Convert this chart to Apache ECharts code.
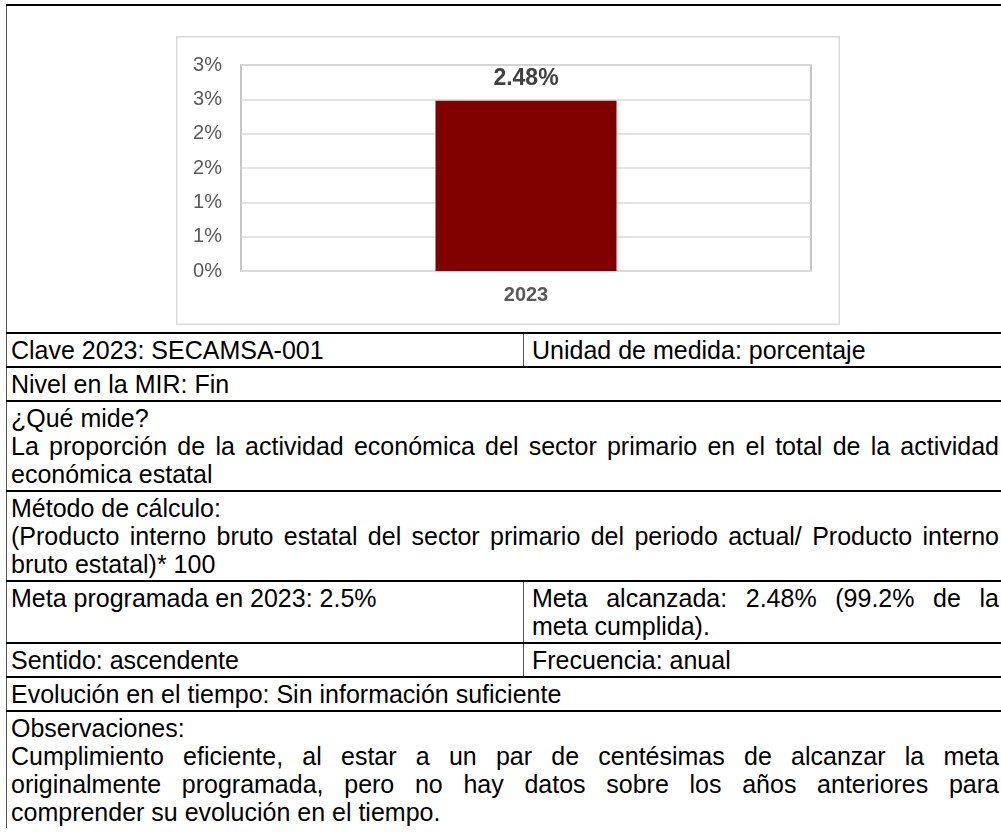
<!DOCTYPE html>
<html>
<head>
<meta charset="utf-8">
<script src="https://cdn.jsdelivr.net/npm/echarts@6/dist/echarts.min.js"></script>
<style>
  html, body { margin: 0; padding: 0; background: #fff; overflow: hidden; }
  body { width: 1001px; height: 834px; position: relative; font-family: "Liberation Sans", Arial, sans-serif; }
  #tbl {
    position: absolute; left: 6px; top: 4px; width: 997px;
    border-collapse: collapse; table-layout: fixed;
    font-size: 25px; line-height: 28px; color: #000;
  }
  #tbl td {
    border-top: 2.5px solid #000; border-left: 1.5px solid #555;
    padding: 2px 4px 2px 4px; vertical-align: top; text-align: justify;
  }
  #tbl td.right { border-left: 1px solid #555; padding-left: 8px; }
  #tbl td.chartcell { height: 326px; padding: 0; }
  #chart { position: absolute; left: 176px; top: 36px; width: 664px; height: 289px;
    box-shadow: inset 0 0 0 1.5px #d9d9d9; }
</style>
</head>
<body>
<table id="tbl">
  <colgroup><col style="width:517px"><col></colgroup>
  <tr><td colspan="2" class="chartcell"></td></tr>
  <tr><td>Clave 2023: SECAMSA-001</td><td class="right">Unidad de medida: porcentaje</td></tr>
  <tr><td colspan="2">Nivel en la MIR: Fin</td></tr>
  <tr><td colspan="2">¿Qué mide?<br>La proporción de la actividad económica del sector primario en el total de la actividad económica estatal</td></tr>
  <tr><td colspan="2">Método de cálculo:<br>(Producto interno bruto estatal del sector primario del periodo actual/ Producto interno bruto estatal)* 100</td></tr>
  <tr><td>Meta programada en 2023: 2.5%</td><td class="right">Meta alcanzada: 2.48% (99.2% de la meta cumplida).</td></tr>
  <tr><td>Sentido: ascendente</td><td class="right">Frecuencia: anual</td></tr>
  <tr><td colspan="2">Evolución en el tiempo: Sin información suficiente</td></tr>
  <tr><td colspan="2">Observaciones:<br>Cumplimiento eficiente, al estar a un par de centésimas de alcanzar la meta originalmente programada, pero no hay datos sobre los años anteriores para comprender su evolución en el tiempo.</td></tr>
</table>
<div id="chart"></div>

<script>
// chart data
const years = ['2023']
const shares = [2.48]
const yMin = 0
const yMax = 3
const yStep = 0.5

const font = '"Liberation Sans", Arial, sans-serif'

const chart = echarts.init(document.getElementById('chart'))
chart.setOption({
  animation: false,
  grid: { left: 65, top: 29, right: 29, bottom: 54, show: true, borderColor: '#b3b3b3', borderWidth: 1.5 },
  xAxis: {
    type: 'category', data: years,
    axisLine: { lineStyle: { color: '#d9d9d9', width: 2 } },
    axisTick: { show: false },
    axisLabel: { color: '#595959', fontSize: 20, fontWeight: 'bold', margin: 14, fontFamily: font }
  },
  yAxis: {
    type: 'value', min: yMin, max: yMax, interval: yStep,
    axisLine: { show: false },
    axisTick: { show: false },
    axisLabel: { color: '#595959', fontSize: 20, margin: 19, fontFamily: font, formatter: v => Math.round(v) + '%' },
    splitLine: { lineStyle: { color: '#d9d9d9', width: 1.5 } }
  },
  series: [{
    type: 'bar', data: shares,
    barWidth: 181,
    itemStyle: { color: '#800000' },
    label: {
      show: true, position: 'top', distance: 11,
      formatter: p => p.value.toFixed(2) + '%',
      color: '#404040', fontSize: 23, fontWeight: 'bold', fontFamily: font
    }
  }]
})
</script>
</body>
</html>
